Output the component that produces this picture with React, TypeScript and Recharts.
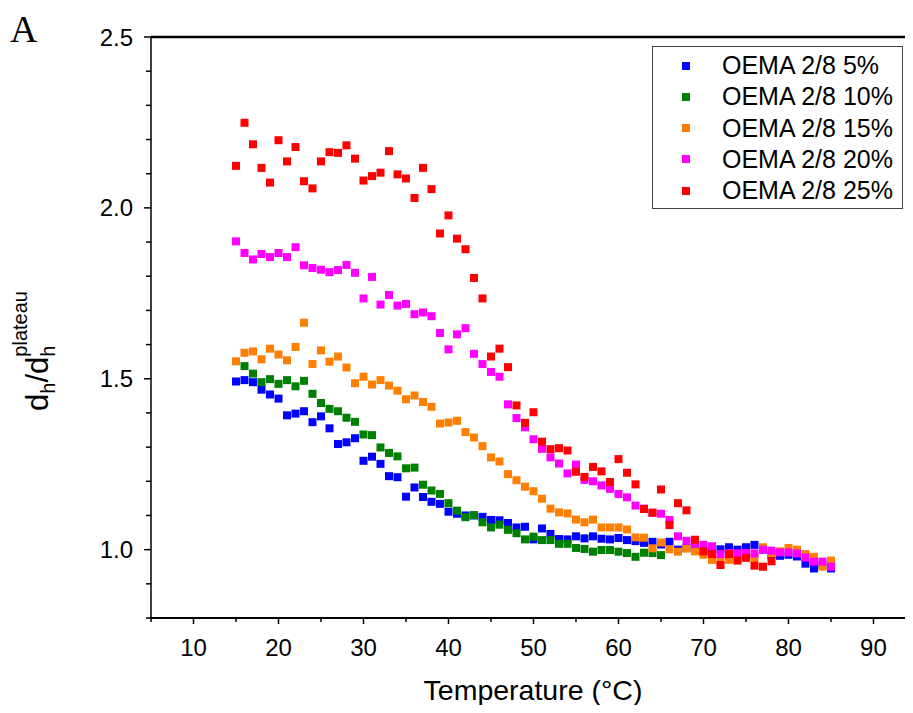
import { ScatterChart, Scatter, XAxis, YAxis, ReferenceLine } from "recharts";

// temperatures (°C)
const temps = [
  15, 16, 17, 18, 19, 20, 21, 22, 23, 24, 25, 26, 27, 28, 29, 30, 31, 32, 33, 34,
  35, 36, 37, 38, 39, 40, 41, 42, 43, 44, 45, 46, 47, 48, 49, 50, 51, 52, 53, 54,
  55, 56, 57, 58, 59, 60, 61, 62, 63, 64, 65, 66, 67, 68, 69, 70, 71, 72, 73, 74,
  75, 76, 77, 78, 79, 80, 81, 82, 83, 84, 85,
];

// d_h / d_h(plateau), one value per temperature starting at the series' first temp
const oema5 = [
  1.492, 1.496, 1.49, 1.468, 1.454, 1.442, 1.393, 1.398, 1.405, 1.373, 1.39, 1.355,
  1.309, 1.314, 1.326, 1.26, 1.272, 1.251, 1.215, 1.212, 1.155, 1.182, 1.154, 1.14,
  1.134, 1.111, 1.105, 1.1, 1.1, 1.096, 1.087, 1.086, 1.078, 1.065, 1.067, 1.03,
  1.062, 1.046, 1.031, 1.03, 1.039, 1.033, 1.039, 1.032, 1.03, 1.034, 1.028, 1.025,
  1.02, 1.023, 1.015, 1.023, 1.0, 1.005, 1.012, 0.995, 0.99, 1.001, 1.007, 1.0,
  1.007, 1.014, 1.0, 0.985, 0.982, 0.985, 0.98, 0.959, 0.945, 0.955, 0.945,
];
const oema10 = [
  1.537, 1.515, 1.49, 1.499, 1.485, 1.496, 1.478, 1.494, 1.456, 1.429, 1.412, 1.405,
  1.386, 1.374, 1.337, 1.335, 1.299, 1.283, 1.273, 1.238, 1.24, 1.19, 1.173, 1.163,
  1.136, 1.114, 1.095, 1.101, 1.08, 1.065, 1.073, 1.058, 1.048, 1.03, 1.038, 1.028,
  1.028, 1.017, 1.017, 1.005, 1.002, 0.994, 0.999, 0.999, 0.994, 0.99, 0.979, 0.991,
  0.99, 0.984,
];
const oema15 = [
  1.551, 1.576, 1.58, 1.557, 1.588, 1.571, 1.554, 1.593, 1.664, 1.543, 1.583, 1.55,
  1.565, 1.533, 1.487, 1.506, 1.483, 1.496, 1.48, 1.465, 1.44, 1.451, 1.432, 1.418,
  1.369, 1.372, 1.377, 1.344, 1.328, 1.303, 1.27, 1.258, 1.221, 1.203, 1.184, 1.171,
  1.149, 1.12, 1.109, 1.106, 1.088, 1.08, 1.088, 1.065, 1.065, 1.065, 1.059, 1.036,
  1.035, 1.004, 1.021, 1.001, 0.994, 1.003, 0.995, 0.985, 0.97, 0.97, 0.97, 0.975,
  0.98, 0.975, 1.007, 0.99, 0.995, 1.005, 1.0, 0.987, 0.979, 0.95, 0.968,
];
const oema20 = [
  1.902, 1.868, 1.849, 1.865, 1.856, 1.868, 1.856, 1.885, 1.832, 1.824, 1.819, 1.812,
  1.818, 1.833, 1.81, 1.735, 1.798, 1.717, 1.745, 1.714, 1.719, 1.689, 1.694, 1.683,
  1.634, 1.586, 1.63, 1.648, 1.573, 1.543, 1.52, 1.506, 1.425, 1.385, 1.358, 1.323,
  1.295, 1.27, 1.252, 1.223, 1.249, 1.204, 1.2, 1.188, 1.178, 1.163, 1.153, 1.129,
  1.12, 1.108, 1.105, 1.087, 1.039, 1.026, 1.018, 1.014, 1.01, 0.987, 0.99, 0.989,
  0.99, 0.989, 1.0, 0.997, 0.992, 0.992, 0.989, 0.977, 0.965, 0.965, 0.95,
];
const oema25 = [
  2.123, 2.249, 2.186, 2.117, 2.074, 2.198, 2.136, 2.178, 2.078, 2.057, 2.136, 2.163,
  2.161, 2.183, 2.144, 2.08, 2.093, 2.103, 2.166, 2.098, 2.086, 2.029, 2.117, 2.055,
  1.925, 1.978, 1.91, 1.879, 1.795, 1.735, 1.565, 1.588, 1.534, 1.422, 1.371, 1.402,
  1.316, 1.294, 1.297, 1.29, 1.228, 1.213, 1.242, 1.229, 1.198, 1.265, 1.225, 1.191,
  1.119, 1.108, 1.176, 1.072, 1.136, 1.115, 1.029, 0.995, 0.987, 0.955, 0.987, 0.968,
  0.976, 0.953, 0.95, 0.966,
];

const seriesNames = ["OEMA 2/8 5%", "OEMA 2/8 10%", "OEMA 2/8 15%", "OEMA 2/8 20%", "OEMA 2/8 25%"];
const seriesStart = [15, 16, 15, 15, 15];
const seriesValues = [oema5, oema10, oema15, oema20, oema25];
const COLORS = ["#0000ff", "#008000", "#ff8000", "#ff00ff", "#ff0000"];

const xTicks = [5, 10, 15, 20, 25, 30, 35, 40, 45, 50, 55, 60, 65, 70, 75, 80, 85, 90];
const xLabelTicks = [10, 20, 30, 40, 50, 60, 70, 80, 90];
const yTicks = [0.8, 0.9, 1.0, 1.1, 1.2, 1.3, 1.4, 1.5, 1.6, 1.7, 1.8, 1.9, 2.0, 2.1, 2.2, 2.3, 2.4, 2.5];
const yLabelTicks = [1.0, 1.5, 2.0, 2.5];

const FONT = "'Liberation Sans', Arial, sans-serif";

const points = (start: number, values: number[]) => {
  const i0 = temps.indexOf(start);
  return values.map((v, i) => ({ x: temps[i0 + i], y: v }));
};

const BottomTick = (props: any) => {
  const { x, y, payload } = props;
  const major = xLabelTicks.includes(payload.value);
  return (
    <g>
      <line x1={x} x2={x} y1={y} y2={y + (major ? 6 : 4)} stroke="#000" strokeWidth={1.5} />
      {major && (
        <text x={x} y={y + 38} textAnchor="middle" fontFamily={FONT} fontSize={24} fill="#000">
          {payload.value}
        </text>
      )}
    </g>
  );
};

const LeftTick = (props: any) => {
  const { x, y, payload } = props;
  const v = Math.round(payload.value * 10) / 10;
  const major = yLabelTicks.includes(v);
  return (
    <g>
      <line x1={x} x2={x - (major ? 7 : 5)} y1={y} y2={y} stroke="#000" strokeWidth={1.5} />
      {major && (
        <text x={x - 18} y={y + 8.5} textAnchor="end" fontFamily={FONT} fontSize={24} fill="#000">
          {v.toFixed(1)}
        </text>
      )}
    </g>
  );
};

export default function App() {
  return (
    <div style={{ position: "relative", width: 905, height: 697, background: "#fff" }}>
      <ScatterChart width={905} height={697} margin={{ top: 29, right: 0, bottom: 27, left: 0 }}>
        <XAxis
          dataKey="x"
          type="number"
          domain={[5, 94.65]}
          ticks={xTicks}
          allowDataOverflow
          height={60}
          tickSize={0}
          tickMargin={0}
          tick={<BottomTick />}
          tickLine={false}
          axisLine={{ stroke: "#000", strokeWidth: 2 }}
        />
        <YAxis
          dataKey="y"
          type="number"
          domain={[0.8, 2.5]}
          ticks={yTicks}
          allowDataOverflow
          width={143}
          tickSize={0}
          tickMargin={0}
          tick={<LeftTick />}
          tickLine={false}
          axisLine={{ stroke: "#000", strokeWidth: 1.5 }}
        />
        <ReferenceLine y={2.5} stroke="#000" strokeWidth={2.5} />
        {seriesValues.map((vals, i) => (
          <Scatter
            key={seriesNames[i]}
            name={seriesNames[i]}
            data={points(seriesStart[i], vals)}
            fill={COLORS[i]}
            shape="square"
            isAnimationActive={false}
          />
        ))}
      </ScatterChart>

      <svg
        width={905}
        height={697}
        style={{ position: "absolute", left: 0, top: 0, pointerEvents: "none" }}
      >
        <text x={2} y={34} fontFamily="'Liberation Serif', 'Times New Roman', serif" fontSize={38} fill="#000">
          A
        </text>
        <text x={525} y={692} textAnchor="middle" fontFamily={FONT} fontSize={28.5} fill="#000">
          Temperature (°C)
        </text>
        <g transform="translate(40, 343) rotate(-90)">
          <text x={0} y={0} textAnchor="middle" fontFamily={FONT} fontSize={31} fill="#000">
            <tspan>d</tspan>
            <tspan fontSize={20} dy={7}>h</tspan>
            <tspan dy={-7}>/d</tspan>
            <tspan fontSize={20} dy={7}>h</tspan>
            <tspan fontSize={20} dx={-11} dy={-28}>plateau</tspan>
          </text>
        </g>
      </svg>

      <div
        style={{
          position: "absolute",
          left: 644,
          top: 38,
          width: 249,
          height: 161,
          border: "1.3px solid #444",
          background: "#fff",
          fontFamily: FONT,
          fontSize: 25,
          color: "#000",
          boxSizing: "content-box",
        }}
      >
        {seriesNames.map((n, i) => (
          <div
            key={n}
            style={{
              position: "absolute",
              left: 0,
              top: 3 + i * 31.3,
              height: 31,
              display: "flex",
              alignItems: "center",
              whiteSpace: "nowrap",
            }}
          >
            <span
              style={{
                display: "inline-block",
                width: 8,
                height: 8,
                background: COLORS[i],
                marginLeft: 29,
                marginRight: 32,
              }}
            />
            <span>{n}</span>
          </div>
        ))}
      </div>
    </div>
  );
}
